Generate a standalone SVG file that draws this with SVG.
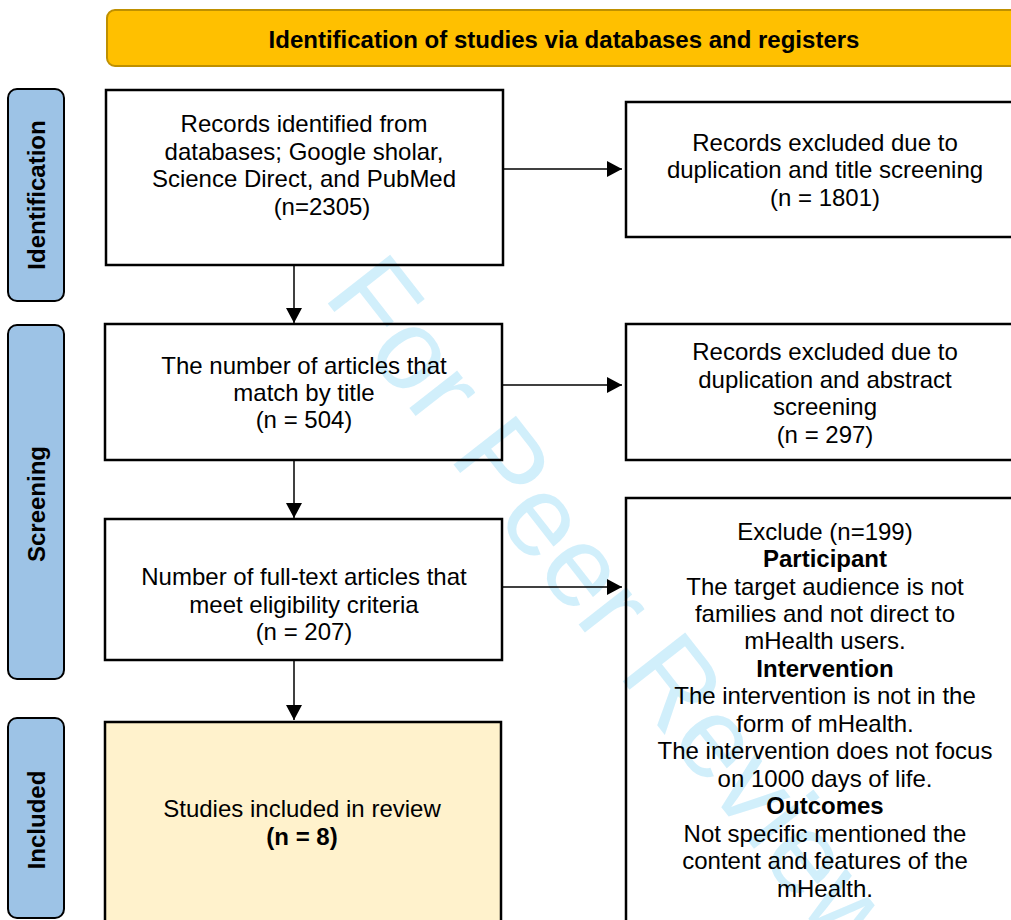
<svg xmlns="http://www.w3.org/2000/svg" width="1011" height="920" viewBox="0 0 1011 920">
<defs>
<marker id="ah" markerUnits="userSpaceOnUse" markerWidth="16" markerHeight="16" refX="15" refY="8" orient="auto">
<path d="M0,0 L15,8 L0,16 Z" fill="#000"/>
</marker>
<style>
.t{font-family:"Liberation Sans",Arial,sans-serif;font-size:24px;fill:#000;text-anchor:middle}
.b{font-weight:bold}
.box{fill:none;stroke:#000;stroke-width:2.5}
.side{fill:#9DC3E6;stroke:#000;stroke-width:2}
.conn{stroke:#000;stroke-width:1.5;fill:none;marker-end:url(#ah)}
.wm{font-family:"Liberation Sans",Arial,sans-serif;font-size:115px;fill:#00A6E8;fill-opacity:0.18}
</style>
</defs>
<rect width="1011" height="920" fill="#fff"/>
<text class="wm" transform="translate(322,296) rotate(52)">For Peer Review</text>

<g id="header">
<rect x="107" y="10" width="914" height="56" rx="8" fill="#FFC000" stroke="#BF9000" stroke-width="2"/>
<text class="t b" x="564" y="48">Identification of studies via databases and registers</text>
</g>

<g id="side-identification">
<rect class="side" x="8" y="89" width="56" height="212" rx="9"/>
<text class="t b" transform="translate(45,195) rotate(-90)">Identification</text>
</g>
<g id="side-screening">
<rect class="side" x="8" y="325" width="56" height="354" rx="9"/>
<text class="t b" transform="translate(45,504) rotate(-90)">Screening</text>
</g>
<g id="side-included">
<rect class="side" x="8" y="718" width="56" height="200" rx="9"/>
<text class="t b" transform="translate(45,820) rotate(-90)">Included</text>
</g>

<g id="box-identified">
<rect class="box" x="106" y="90" width="397" height="175"/>
<text class="t" x="304" y="132">Records identified from</text>
<text class="t" x="304" y="160">databases; Google sholar,</text>
<text class="t" x="304" y="187">Science Direct, and PubMed</text>
<text class="t" x="322" y="215">(n=2305)</text>
</g>

<g id="box-excluded-title">
<rect class="box" x="626" y="102" width="398" height="135"/>
<text class="t" x="825" y="151">Records excluded due to</text>
<text class="t" x="825" y="178">duplication and title screening</text>
<text class="t" x="825" y="206">(n = 1801)</text>
</g>

<g id="box-title-match">
<rect class="box" x="105" y="324" width="397" height="136"/>
<text class="t" x="304" y="374">The number of articles that</text>
<text class="t" x="304" y="401">match by title</text>
<text class="t" x="304" y="428">(n = 504)</text>
</g>

<g id="box-excluded-abstract">
<rect class="box" x="626" y="324" width="398" height="136"/>
<text class="t" x="825" y="360">Records excluded due to</text>
<text class="t" x="825" y="388">duplication and abstract</text>
<text class="t" x="825" y="415">screening</text>
<text class="t" x="825" y="443">(n = 297)</text>
</g>

<g id="box-fulltext">
<rect class="box" x="105" y="519" width="397" height="141"/>
<text class="t" x="304" y="585">Number of full-text articles that</text>
<text class="t" x="304" y="613">meet eligibility criteria</text>
<text class="t" x="304" y="640">(n = 207)</text>
</g>

<g id="box-excluded-fulltext">
<rect class="box" x="626" y="498" width="398" height="440"/>
<text class="t" x="825" y="540">Exclude (n=199)</text>
<text class="t b" x="825" y="567">Participant</text>
<text class="t" x="825" y="595">The target audience is not</text>
<text class="t" x="825" y="622">families and not direct to</text>
<text class="t" x="825" y="649">mHealth users.</text>
<text class="t b" x="825" y="677">Intervention</text>
<text class="t" x="825" y="704">The intervention is not in the</text>
<text class="t" x="825" y="732">form of mHealth.</text>
<text class="t" x="825" y="759">The intervention does not focus</text>
<text class="t" x="825" y="787">on 1000 days of life.</text>
<text class="t b" x="825" y="814">Outcomes</text>
<text class="t" x="825" y="842">Not specific mentioned the</text>
<text class="t" x="825" y="869">content and features of the</text>
<text class="t" x="825" y="897">mHealth.</text>
</g>

<g id="box-included">
<rect class="box" x="105" y="722" width="396" height="216" style="fill:#FFF2CC"/>
<text class="t" x="302" y="817">Studies included in review</text>
<text class="t b" x="302" y="845">(n = 8)</text>
</g>

<g id="connectors">
<line class="conn" x1="294" y1="265" x2="294" y2="323"/>
<line class="conn" x1="294" y1="460" x2="294" y2="518"/>
<line class="conn" x1="294" y1="660" x2="294" y2="720"/>
<line class="conn" x1="503" y1="169" x2="622" y2="169"/>
<line class="conn" x1="502" y1="385" x2="622" y2="385"/>
<line class="conn" x1="502" y1="587" x2="622" y2="587"/>
</g>
</svg>
